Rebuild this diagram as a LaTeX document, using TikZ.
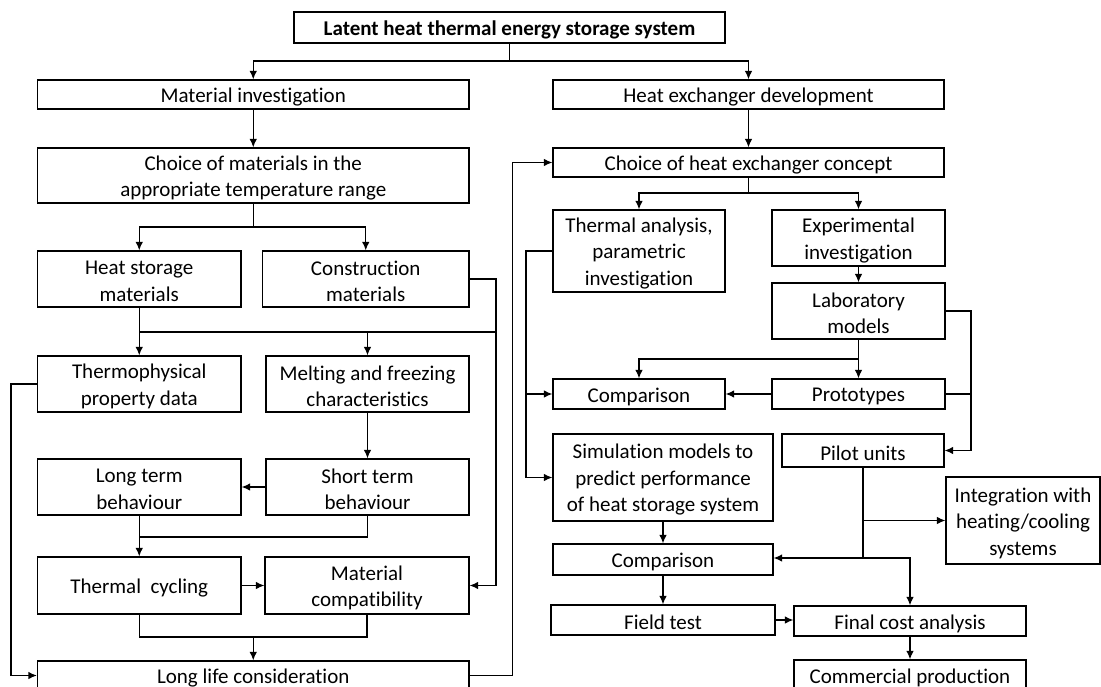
\documentclass[tikz,border=0pt]{standalone}
\usepackage{fontspec}
\setmainfont{Carlito}[Ligatures=NoCommon]
\usetikzlibrary{arrows.meta}
% box given by its left, top, right and bottom edges; its text sits slightly low
\newcommand\flowbox[6]{%
  \node[box, minimum width={#4-#2}, minimum height={#5-#3}] (#1) at ({(#2+#4)/2},{(#3+#5)/2}) {};
  \node[boxtext] (#1-text) at ({(#2+#4)/2},{(#3+#5)/2+2.5}) {#6};}
\begin{document}
\begin{tikzpicture}[x=1pt,y=-1pt,
  box/.style={draw, line width=1.25pt, inner sep=0pt},
  boxtext/.style={inner sep=0pt, align=center, font=\fontsize{21}{26.5}\selectfont},
  link/.style={line width=1.25pt},
  arr/.style={link, -{Latex[length=8.5pt,width=7.5pt]}}]
\useasboundingbox (0,0) rectangle (1101,687);

% boxes
\flowbox{title}{294}{12}{725}{43}{\textbf{Latent heat thermal energy storage system}}
\flowbox{mi}{37.5}{80}{469}{109}{Material investigation}
\flowbox{hed}{553}{80}{944}{109}{Heat exchanger development}
\flowbox{cmat}{37.5}{148}{469}{203}{Choice of materials in the\\appropriate temperature range}
\flowbox{che}{553}{148}{944}{177}{Choice of heat exchanger concept}
\flowbox{hsm}{37.5}{251}{241}{307}{Heat storage\\materials}
\flowbox{cm}{262.5}{251}{469}{307}{Construction\\materials}
\flowbox{ta}{553}{210}{725}{292}{Thermal analysis,\\parametric\\investigation}
\flowbox{ei}{772}{210}{945}{266}{Experimental\\investigation}
\flowbox{lm}{772}{283}{945}{339}{Laboratory\\models}
\flowbox{tpd}{37.5}{356}{241}{412}{Thermophysical\\property data}
\flowbox{mfc}{266}{356}{469}{412}{Melting and freezing\\characteristics}
\flowbox{cmp1}{553}{379}{725}{409}{Comparison}
\flowbox{proto}{772}{379}{945}{409}{Prototypes}
\flowbox{pilot}{782}{434}{944}{467}{Pilot units}
\flowbox{sim}{553}{434}{773}{521}{Simulation models to\\predict performance\\of heat storage system}
\flowbox{ltb}{37.5}{459}{241}{515}{Long term\\behaviour}
\flowbox{stb}{266}{459}{469}{515}{Short term\\behaviour}
\flowbox{integ}{946}{477}{1100}{564}{Integration with\\heating/cooling\\systems}
\flowbox{cmp2}{553}{544}{773}{575}{Comparison}
\flowbox{tc}{37.5}{557}{241}{614}{Thermal\ \ cycling}
\flowbox{mc}{265}{557}{469}{614}{Material\\compatibility}
\flowbox{field}{551}{605}{775}{635}{Field test}
\flowbox{fca}{794}{606}{1026}{636}{Final cost analysis}
\flowbox{ll}{37.5}{661}{469}{690}{Long life consideration}
\flowbox{comm}{794}{660}{1026}{690}{Commercial production}

% junctions and routing points
\coordinate (j1) at (509.5,61);
\coordinate (j2) at (253.25,227);
\coordinate (j3) at (748.5,193);
\coordinate (j4) at (858.5,359);
\coordinate (j5) at (863,558);
\coordinate (j6) at (139.25,332);
\coordinate (j7) at (139.25,537);
\coordinate (j8) at (253.25,637);
\coordinate (r1) at (971,311);
\coordinate (r2) at (496,280);
\coordinate (l1) at (526,252);
\coordinate (l2) at (11,385);
\coordinate (l3) at (512.5,676);

% top split
\draw[link] (title.south) -- (j1);
\draw[arr] (j1) -| (mi.north);
\draw[arr] (j1) -| (hed.north);

% material branch
\draw[arr] (mi.south) -- (cmat.north);
\draw[link] (cmat.south) -- (j2);
\draw[arr] (j2) -| (hsm.north);
\draw[arr] (j2) -| (cm.north);
\draw[arr] (hsm.south) -- (tpd.north);
\draw[arr] (j6) -| (mfc.north);
\draw[link] (j6) -- (j6 -| r2);
\draw[arr] (cm.east) -- (cm.east -| r2) |- (mc.east);
\draw[arr] (mfc.south) -- (stb.north);
\draw[arr] (stb.west) -- (ltb.east);
\draw[arr] (ltb.south) -- (tc.north);
\draw[link] (stb.south) |- (j7);
\draw[arr] (tc.east) -- (mc.west);
\draw[link] (tc.south) -- (tc.south |- j8) -- (mc.south |- j8) -- (mc.south);
\draw[arr] (j8) -- (ll.north);
\draw[arr] (tpd.west) -- (tpd.west -| l2) |- (ll.west);
\draw[arr] (ll.east) -- (ll.east -| l3) |- (che.west);

% heat exchanger branch
\draw[arr] (hed.south) -- (che.north);
\draw[link] (che.south) -- (j3);
\draw[arr] (j3) -| (ta.north);
\draw[arr] (j3) -| (ei.north);
\draw[arr] (ei.south) -- (lm.north);
\draw[arr] (lm.south) -- (proto.north);
\draw[arr] (j4) -| (cmp1.north);
\draw[arr] (proto.west) -- (cmp1.east);
\draw[arr] (lm.east) -- (r1) |- (pilot.east);
\draw[link] (proto.east) -- (proto.east -| r1);
\draw[arr] (ta.west) -- (ta.west -| l1) |- (sim.west);
\draw[arr] (l1 |- cmp1.west) -- (cmp1.west);
\draw[arr] (sim.south) -- (cmp2.north);
\draw[arr] (cmp2.south) -- (field.north);
\draw[arr] (field.east) -- (field.east -| fca.west);
\draw[link] (pilot.south) -- (j5);
\draw[arr] (pilot.south |- integ.west) -- (integ.west);
\draw[arr] (j5) -- (j5 -| cmp2.east);
\draw[arr] (j5) -| (fca.north);
\draw[arr] (fca.south) -- (comm.north);
\end{tikzpicture}
\end{document}
